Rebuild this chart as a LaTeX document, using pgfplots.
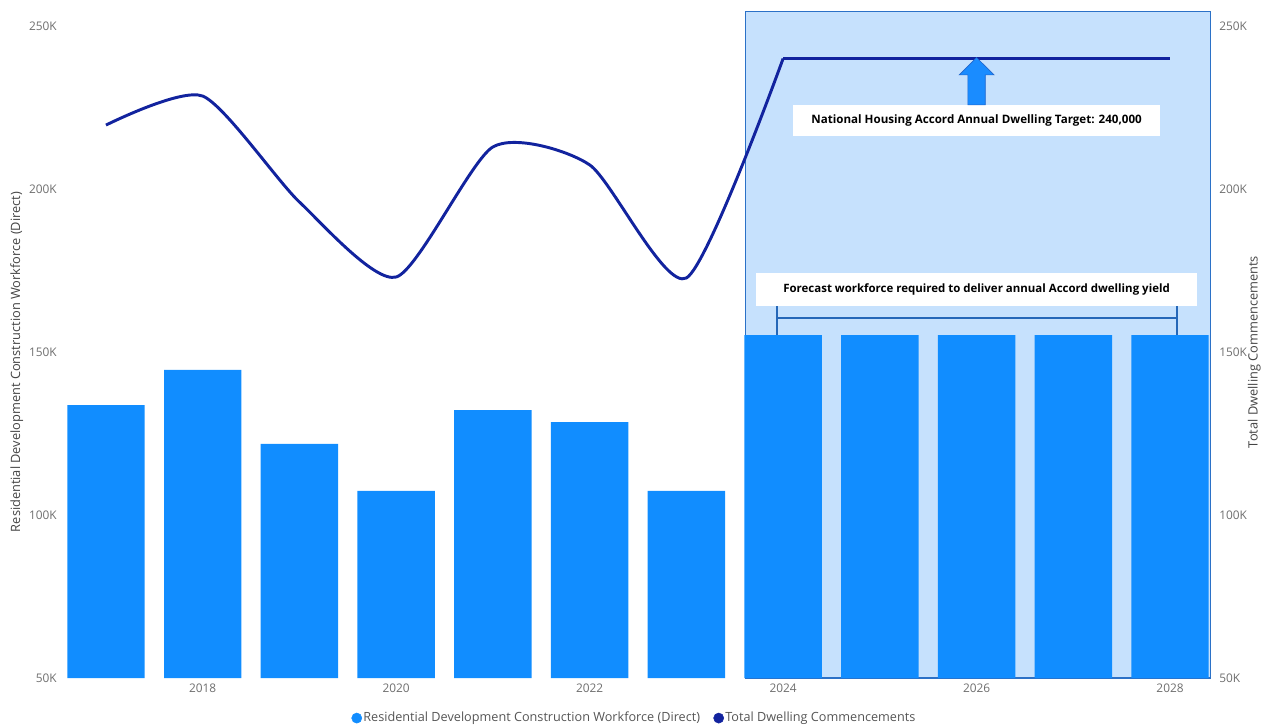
\documentclass[border=0pt]{standalone}
\usepackage{pgfplots}
\pgfplotsset{compat=1.18}
\usepackage{fontspec}
\setmainfont{Open Sans}
\definecolor{barblue}{HTML}{118DFF}
\definecolor{lineblue}{HTML}{12239E}
\definecolor{shadefill}{HTML}{C6E1FD}
\definecolor{shadeborder}{HTML}{2B71C7}
\definecolor{bracketblue}{HTML}{2567B8}
\definecolor{arrowfill}{HTML}{1A8CFF}
\definecolor{arrowborder}{HTML}{2266CC}
\definecolor{tickgray}{HTML}{6E6E6E}
\definecolor{titlegray}{HTML}{444444}
\definecolor{legendgray}{HTML}{555555}
\begin{document}
\begin{tikzpicture}[x=1pt,y=1pt]
\path[use as bounding box] (-43.2,-36) rectangle (903.3,508.5);
\pgfplotsset{
  common/.style={
    at={(0,0)}, anchor=south west, scale only axis,
    width=870.6pt, height=501pt,
    xmin=2016.5, xmax=2028.5, ymin=50000, ymax=254900,
    axis line style={draw=none}, major tick length=0pt,
    ytick={50000,100000,150000,200000,250000},
    yticklabels={50K,100K,150K,200K,250K},
    ticklabel style={font=\fontsize{8.9}{10}\selectfont, text=tickgray},
  }
}
\begin{axis}[common,
    xtick={2018,2020,2022,2024,2026,2028},
    xticklabels={2018,2020,2022,2024,2026,2028},
    xticklabel style={anchor=north, inner sep=0pt, yshift=-4pt},
    yticklabel style={anchor=east, inner sep=0pt, xshift=-0.5pt},
]
\fill[shadefill, draw=shadeborder, line width=0.9pt] (axis cs:2023.61,50000) rectangle (axis cs:2028.42,254500);
\addplot[ybar, bar width=0.8, fill=barblue, draw=none] coordinates {
 (2017,133700) (2018,144500) (2019,121800) (2020,107400) (2021,132200)
 (2022,128500) (2023,107400) (2024,155200) (2025,155200) (2026,155200)
 (2027,155200) (2028,155200)};
\end{axis}
\begin{axis}[common,
    hide x axis,
    ytick pos=right, yticklabel pos=right,
    yticklabel style={anchor=west, inner sep=0pt, xshift=0.5pt},
    legend style={at={(0.4966,-0.06)}, anchor=center, draw=none, fill=none,
      font=\fontsize{9.5}{11}\selectfont, text=legendgray,
      /tikz/every even column/.append style={column sep=9pt},
      inner sep=0pt, nodes={inner sep=1pt}},
    legend columns=2,
]
\addlegendimage{legend image code/.code={\fill[barblue] (4pt,0pt) circle (3.8pt);}}
\addlegendentry{Residential Development Construction Workforce (Direct)}
\addlegendimage{legend image code/.code={\fill[lineblue] (4pt,0pt) circle (3.8pt);}}
\addlegendentry{Total Dwelling Commencements}
\addplot[lineblue, line width=2.2pt, smooth, tension=0.4, forget plot] coordinates {
 (2017,219600) (2018,228500) (2019,196000) (2020,173000) (2021,212900)
 (2022,207400) (2023,172700) (2024,240000)};
\addplot[lineblue, line width=2.2pt, forget plot] coordinates {
 (2024,240000) (2025,240000) (2026,240000) (2027,240000) (2028,240000)};
% bracket
\draw[bracketblue, line width=1.4pt] (axis cs:2023.94,160400) -- (axis cs:2028.07,160400);
\draw[bracketblue, line width=1.4pt] (axis cs:2023.94,164100) -- (axis cs:2023.94,155200);
\draw[bracketblue, line width=1.4pt] (axis cs:2028.07,164100) -- (axis cs:2028.07,155200);
% forecast box
\fill[white] (axis cs:2023.72,164100) rectangle (axis cs:2028.28,174200);
\node[font=\bfseries\fontsize{8.6}{9}\selectfont, text=black] at (axis cs:2026.0,169150) {Forecast workforce required to deliver annual Accord dwelling yield};
% target box
\fill[white] (axis cs:2024.10,216300) rectangle (axis cs:2027.90,225800);
\node[font=\bfseries\fontsize{8.7}{9}\selectfont, text=black] at (axis cs:2026.0,221050) {National Housing Accord Annual Dwelling Target: 240,000};
% arrow
\filldraw[fill=arrowfill, draw=arrowborder, line width=0.5pt]
  (axis cs:2025.91,225800) -- (axis cs:2025.91,235000) -- (axis cs:2025.82,235000)
  -- (axis cs:2026.0,240300) -- (axis cs:2026.18,235000) -- (axis cs:2026.09,235000)
  -- (axis cs:2026.09,225800) -- cycle;
\end{axis}
\node[rotate=90, anchor=north, inner sep=0pt, font=\fontsize{9.6}{11}\selectfont, text=titlegray] at (-35.7,237) {Residential Development Construction Workforce (Direct)};
\node[rotate=90, anchor=north, inner sep=0pt, font=\fontsize{9.6}{11}\selectfont, text=titlegray] at (892.5,244.5) {Total Dwelling Commencements};
\end{tikzpicture}
\end{document}
